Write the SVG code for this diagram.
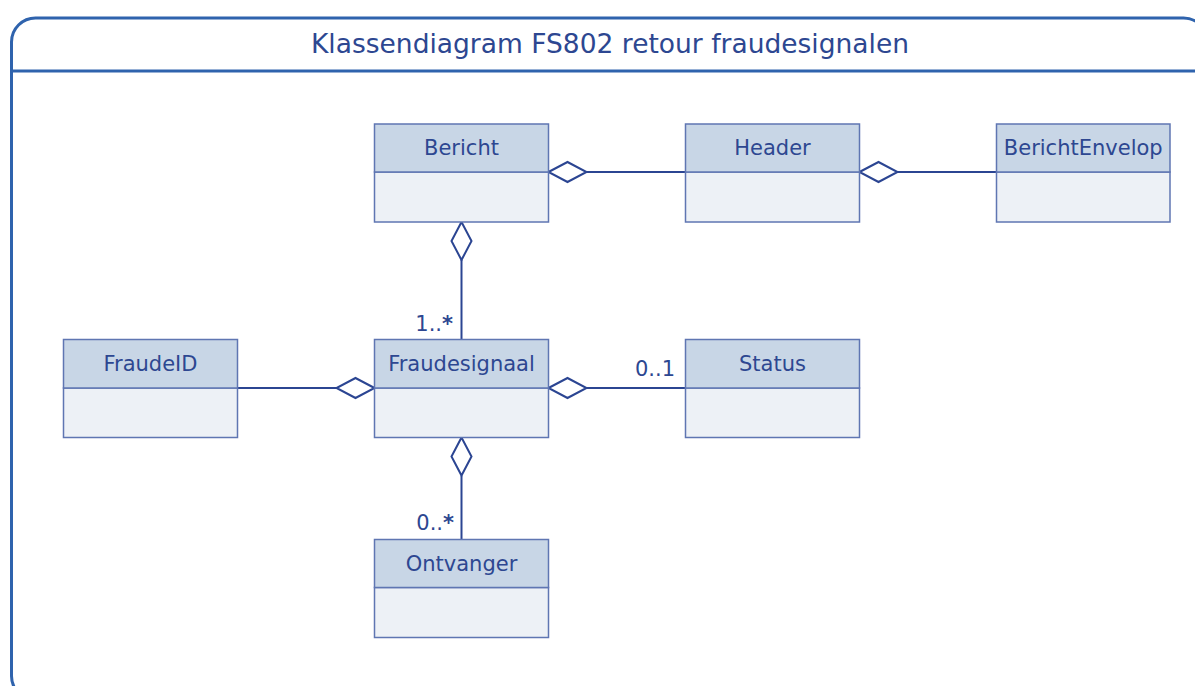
<svg xmlns="http://www.w3.org/2000/svg" width="1195" height="686" viewBox="0 0 1195 686">
<style>
.frame{fill:none;stroke:#2F63AD;stroke-width:3}
.hd{fill:#C8D6E6;stroke:#5F76B2;stroke-width:1.5}
.bd{fill:#EDF1F6;stroke:#5F76B2;stroke-width:1.5}
.nm{font-family:"DejaVu Sans","Verdana",sans-serif;font-size:21px;fill:#2D4791;text-anchor:middle}
.title{font-family:"DejaVu Sans","Verdana",sans-serif;font-size:26.5px;fill:#2D4791;text-anchor:middle}
.mul{font-family:"DejaVu Sans","Verdana",sans-serif;font-size:21px;fill:#2D4791;text-anchor:end}
.ln{fill:none;stroke:#2B4592;stroke-width:2}
.dm{fill:#FFFFFF;stroke:#2B4592;stroke-width:2;stroke-linejoin:miter}
</style>
<rect width="1195" height="686" fill="#FFFFFF"/>
<g id="frame">
<rect class="frame" x="11.5" y="18" width="1196" height="682" rx="24" ry="24"/>
<line class="frame" x1="11.5" y1="71" x2="1195" y2="71"/>
<text class="title" x="610" y="53">Klassendiagram FS802 retour fraudesignalen</text>
</g>
<g id="connectors">
<line class="ln" x1="586.5" y1="172" x2="685.5" y2="172"/>
<polygon class="dm" points="548.5,172 567.5,162 586.5,172 567.5,182"/>
<line class="ln" x1="897.5" y1="172" x2="996.5" y2="172"/>
<polygon class="dm" points="859.5,172 878.5,162 897.5,172 878.5,182"/>
<line class="ln" x1="461.5" y1="260" x2="461.5" y2="339.5"/>
<polygon class="dm" points="461.5,222 471.5,241 461.5,260 451.5,241"/>
<text class="mul" x="453" y="331">1..<tspan font-weight="bold">*</tspan></text>
<line class="ln" x1="237.5" y1="388" x2="336.5" y2="388"/>
<polygon class="dm" points="374.5,388 355.5,378 336.5,388 355.5,398"/>
<line class="ln" x1="586.5" y1="388" x2="685.5" y2="388"/>
<polygon class="dm" points="548.5,388 567.5,378 586.5,388 567.5,398"/>
<text class="mul" x="675" y="376">0..1</text>
<line class="ln" x1="461.5" y1="475.5" x2="461.5" y2="539.5"/>
<polygon class="dm" points="461.5,437.5 471.5,456.5 461.5,475.5 451.5,456.5"/>
<text class="mul" x="454" y="530">0..<tspan font-weight="bold">*</tspan></text>
</g>
<g id="Bericht">
<rect class="bd" x="374.5" y="172" width="174" height="50"/>
<rect class="hd" x="374.5" y="124" width="174" height="48"/>
<text class="nm" x="461.5" y="155">Bericht</text>
</g>
<g id="Header">
<rect class="bd" x="685.5" y="172" width="174" height="50"/>
<rect class="hd" x="685.5" y="124" width="174" height="48"/>
<text class="nm" x="772.5" y="155">Header</text>
</g>
<g id="BerichtEnvelop">
<rect class="bd" x="996.5" y="172" width="173.5" height="50"/>
<rect class="hd" x="996.5" y="124" width="173.5" height="48"/>
<text class="nm" x="1083.25" y="155">BerichtEnvelop</text>
</g>
<g id="FraudeID">
<rect class="bd" x="63.5" y="388" width="174" height="49.5"/>
<rect class="hd" x="63.5" y="339.5" width="174" height="48.5"/>
<text class="nm" x="150.5" y="370.5">FraudeID</text>
</g>
<g id="Fraudesignaal">
<rect class="bd" x="374.5" y="388" width="174" height="49.5"/>
<rect class="hd" x="374.5" y="339.5" width="174" height="48.5"/>
<text class="nm" x="461.5" y="370.5">Fraudesignaal</text>
</g>
<g id="Status">
<rect class="bd" x="685.5" y="388" width="174" height="49.5"/>
<rect class="hd" x="685.5" y="339.5" width="174" height="48.5"/>
<text class="nm" x="772.5" y="370.5">Status</text>
</g>
<g id="Ontvanger">
<rect class="bd" x="374.5" y="587.5" width="174" height="50"/>
<rect class="hd" x="374.5" y="539.5" width="174" height="48"/>
<text class="nm" x="461.5" y="570.5">Ontvanger</text>
</g>
</svg>
